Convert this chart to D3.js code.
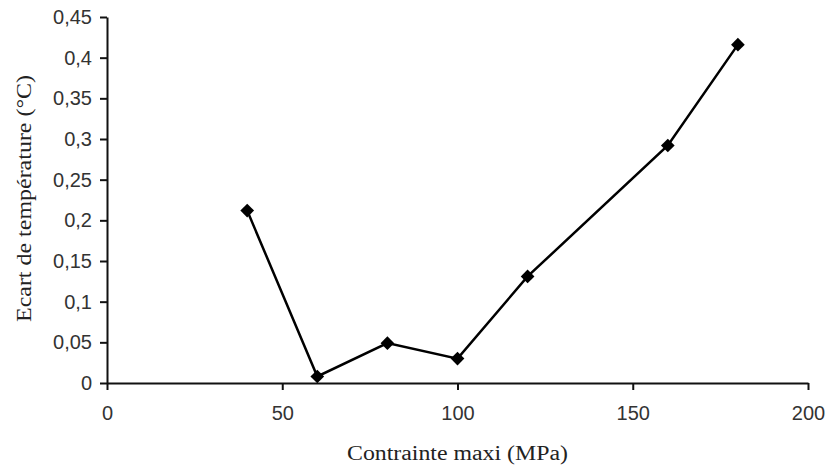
<!DOCTYPE html>
<html>
<head>
<meta charset="utf-8">
<script src="https://cdn.jsdelivr.net/npm/d3@7/dist/d3.min.js"></script>
<style>
  html, body { margin: 0; padding: 0; background: #fff; }
  svg { display: block; }
  .tick text { font-family: "Liberation Sans", Arial, sans-serif; font-size: 20px; fill: #333; }
  .title { font-family: "Liberation Serif", "Times New Roman", serif; font-size: 20px; fill: #222; }
</style>
</head>
<body>
<svg id="chart" width="829" height="472"></svg>
<script>
// Stress amplitude (MPa) and measured temperature rise (°C)
const stress = [40, 60, 80, 100, 120, 160, 180];
const deltaT = [0.212, 0.008, 0.049, 0.03, 0.131, 0.292, 0.416];
const xTicks = [0, 50, 100, 150, 200];
const yTicks = [0, 0.05, 0.1, 0.15, 0.2, 0.25, 0.3, 0.35, 0.4, 0.45];
const xTitle = "Contrainte maxi (MPa)";
const yTitle = "Ecart de température (°C)";

const svg = d3.select("#chart");
const plot = { left: 107, right: 808, top: 17, bottom: 383 };

const x = d3.scaleLinear().domain([0, 200]).range([plot.left, plot.right]);
const y = d3.scaleLinear().domain([0, 0.45]).range([plot.bottom, plot.top]);
const fmt = d => String(+d.toFixed(2)).replace(".", ",");

const xAxis = svg.append("g")
  .attr("transform", `translate(0,${plot.bottom})`)
  .call(d3.axisBottom(x).tickValues(xTicks).tickSize(7).tickPadding(16).tickSizeOuter(0));
const yAxis = svg.append("g")
  .attr("transform", `translate(${plot.left},0)`)
  .call(d3.axisLeft(y).tickValues(yTicks).tickSize(7).tickPadding(8).tickFormat(fmt).tickSizeOuter(0));

[xAxis, yAxis].forEach(g => {
  g.select(".domain").attr("stroke", "#111").attr("stroke-width", 2);
  g.selectAll(".tick line").attr("stroke", "#111").attr("stroke-width", 2);
});

const pts = stress.map((s, i) => [s, deltaT[i]]);

svg.append("path")
  .datum(pts)
  .attr("fill", "none")
  .attr("stroke", "#000")
  .attr("stroke-width", 2.5)
  .attr("d", d3.line().x(d => x(d[0])).y(d => y(d[1])));

svg.append("g").selectAll("path")
  .data(pts)
  .join("path")
  .attr("transform", d => `translate(${x(d[0])},${y(d[1])})`)
  .attr("d", d3.symbol().type(d3.symbolDiamond2).size(120))
  .attr("fill", "#000");

svg.append("text")
  .attr("class", "title")
  .attr("x", (plot.left + plot.right) / 2)
  .attr("y", 460)
  .attr("text-anchor", "middle")
  .attr("textLength", 221)
  .attr("lengthAdjust", "spacingAndGlyphs")
  .text(xTitle);

svg.append("text")
  .attr("class", "title")
  .attr("transform", "translate(31,198.5) rotate(-90)")
  .attr("text-anchor", "middle")
  .attr("textLength", 247)
  .attr("lengthAdjust", "spacingAndGlyphs")
  .text(yTitle);
</script>
</body>
</html>
